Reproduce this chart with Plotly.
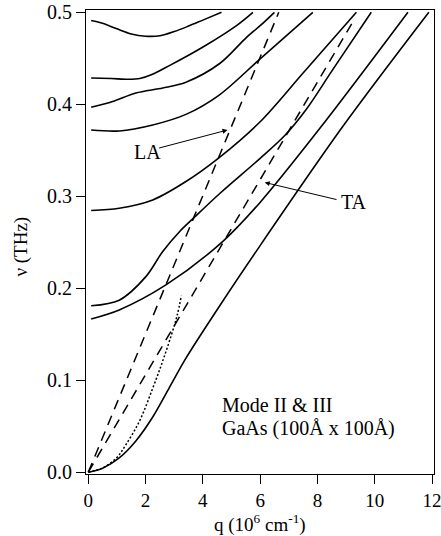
import plotly.graph_objects as go

# ---- data (q in 10^6 cm^-1, nu in THz) ----
c1_q = [0.1, 0.5, 1.0, 1.5, 2.0, 2.5, 3.0, 3.5, 4.0, 4.65]
c1_v = [0.491, 0.488, 0.482, 0.4765, 0.474, 0.4745, 0.479, 0.485, 0.4915, 0.5]
c2_q = [0.1, 0.8, 1.4, 1.8, 2.2, 2.83, 3.99, 5.15, 5.75]
c2_v = [0.4286, 0.428, 0.4272, 0.428, 0.432, 0.442, 0.462, 0.485, 0.5]
c3_q = [0.1, 0.85, 1.66, 2.6, 3.41, 4.6, 5.5, 6.02, 6.5]
c3_v = [0.3967, 0.403, 0.4123, 0.4177, 0.424, 0.4446, 0.472, 0.486, 0.5]
c4_q = [0.1, 1.08, 2.25, 3.41, 4.57, 6.02, 7.84]
c4_v = [0.372, 0.371, 0.3775, 0.389, 0.410, 0.450, 0.5]
c5_q = [0.1, 1.08, 2.25, 3.41, 4.57, 6.0, 7.5, 9.36]
c5_v = [0.2845, 0.287, 0.296, 0.316, 0.342, 0.381, 0.434, 0.5]
c6_q = [0.1, 1.08, 2.01, 2.6, 3.2, 3.7, 4.59, 5.99, 6.86, 7.6, 8.5, 9.88]
c6_v = [0.181, 0.187, 0.2126, 0.240, 0.262, 0.277, 0.303, 0.341, 0.366, 0.394, 0.436, 0.5]
c7_q = [0.1, 1.08, 2.71, 4.69, 5.99, 8.14, 11.16]
c7_v = [0.1666, 0.1764, 0.2036, 0.2507, 0.293, 0.376, 0.5]
c8_q = [0, 0.5, 1.08, 1.66, 2.25, 2.83, 3.41, 4.59, 5.97, 8.89, 11.89]
c8_v = [0, 0.0043, 0.0155, 0.034, 0.06, 0.092, 0.124, 0.181, 0.245, 0.376, 0.5]

dot_q = [0, 0.5, 1.0, 1.31, 1.78, 2.25, 2.6, 2.9, 3.1, 3.25]
dot_v = [0, 0.0045, 0.016, 0.0297, 0.055, 0.0913, 0.121, 0.149, 0.17, 0.192]

la_q = [0, 6.65]
la_v = [0, 0.5]
ta_q = [0, 9.3]
ta_v = [0, 0.493]

x_ticks = [0, 2, 4, 6, 8, 10, 12]
y_ticks = [0.0, 0.1, 0.2, 0.3, 0.4, 0.5]

FONT = "Liberation Serif, Times New Roman, serif"

fig = go.Figure()
solid = [(c1_q, c1_v), (c2_q, c2_v), (c3_q, c3_v), (c4_q, c4_v),
         (c5_q, c5_v), (c6_q, c6_v), (c7_q, c7_v), (c8_q, c8_v)]
for q, v in solid:
    fig.add_trace(go.Scatter(x=q, y=v, mode="lines",
                             line=dict(color="black", width=1.6, shape="spline", smoothing=0.9),
                             showlegend=False, hoverinfo="skip"))
fig.add_trace(go.Scatter(x=dot_q, y=dot_v, mode="lines",
                         line=dict(color="black", width=1.5, dash="2px,2px", shape="spline"),
                         showlegend=False, hoverinfo="skip"))
for q, v in [(la_q, la_v), (ta_q, ta_v)]:
    fig.add_trace(go.Scatter(x=q, y=v, mode="lines",
                             line=dict(color="black", width=1.5, dash="10px,7px"),
                             showlegend=False, hoverinfo="skip"))

ann = []
# LA label + arrow
ann.append(dict(x=2.07, y=0.3485, xref="x", yref="y", text="LA", showarrow=False,
                font=dict(family=FONT, size=20, color="black")))
ann.append(dict(x=4.86, y=0.372, ax=2.42, ay=0.352, xref="x", yref="y", axref="x", ayref="y",
                text="", showarrow=True, arrowhead=2, arrowsize=1, arrowwidth=1, arrowcolor="black"))
# TA label + arrow
ann.append(dict(x=9.29, y=0.294, xref="x", yref="y", text="TA", showarrow=False,
                font=dict(family=FONT, size=20, color="black")))
ann.append(dict(x=6.16, y=0.315, ax=8.72, ay=0.296, xref="x", yref="y", axref="x", ayref="y",
                text="", showarrow=True, arrowhead=2, arrowsize=1, arrowwidth=1, arrowcolor="black"))
# description
ann.append(dict(x=4.6, y=0.073, xref="x", yref="y", xanchor="left", yanchor="middle",
                text="Mode II &amp; III", showarrow=False,
                font=dict(family=FONT, size=20, color="black")))
ann.append(dict(x=4.6, y=0.048, xref="x", yref="y", xanchor="left", yanchor="middle",
                text="GaAs (100Å x 100Å)", showarrow=False,
                font=dict(family=FONT, size=20, color="black")))
# axis titles
ann.append(dict(x=0.5, y=-0.107, xref="paper", yref="paper", xanchor="center", yanchor="middle",
                text="q (10<sup>6</sup> cm<sup>-1</sup>)", showarrow=False,
                font=dict(family=FONT, size=19, color="black")))
ann.append(dict(x=-0.187, y=0.49, xref="paper", yref="paper", xanchor="center", yanchor="middle",
                text="ν (THz)", textangle=-90, showarrow=False,
                font=dict(family=FONT, size=19, color="black")))
fig.update_layout(annotations=ann)

fig.update_layout(
    width=441, height=536,
    margin=dict(l=86, r=7, t=10, b=62, autoexpand=False),
    paper_bgcolor="white", plot_bgcolor="white",
    font=dict(family=FONT, size=19, color="black"),
)
fig.update_xaxes(range=[-0.08, 12.07], tickvals=x_ticks, ticktext=[str(t) for t in x_ticks],
                 ticks="outside", ticklen=9, tickwidth=1, tickcolor="black",
                 showline=True, linecolor="black", linewidth=1, mirror=True,
                 showgrid=False, zeroline=False, ticklabeloverflow="allow",
                 tickfont=dict(family=FONT, size=19))
fig.update_yaxes(range=[-0.002, 0.5025], tickvals=y_ticks, ticktext=[f"{t:.1f}" for t in y_ticks],
                 ticks="outside", ticklen=9, tickwidth=1, tickcolor="black",
                 showline=True, linecolor="black", linewidth=1, mirror=True,
                 showgrid=False, zeroline=False, ticklabeloverflow="allow",
                 tickfont=dict(family=FONT, size=20))

fig.write_html("out.html", config={"displayModeBar": False},
               post_script="document.body.style.margin='0';document.body.style.overflow='hidden';")
